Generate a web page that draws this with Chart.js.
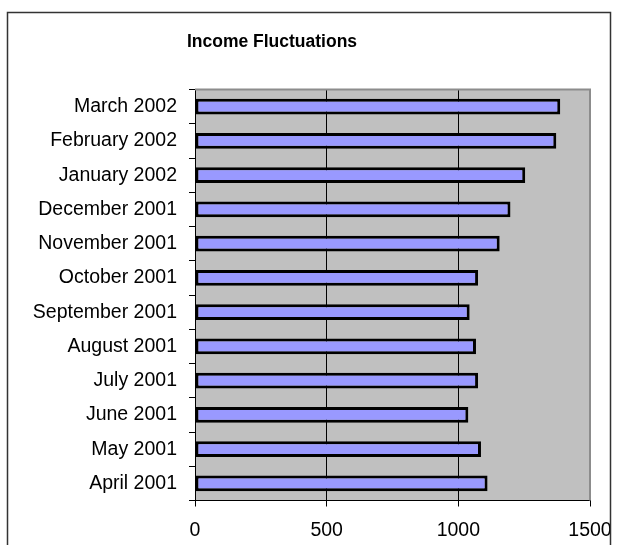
<!DOCTYPE html>
<html>
<head>
<meta charset="utf-8">
<script src="https://cdn.jsdelivr.net/npm/chart.js@4"></script>
<style>
  html, body { margin: 0; padding: 0; background: #fff; }
  #wrap { width: 619px; height: 545px; }
</style>
</head>
<body>
<div id="wrap"><canvas id="incomeChart" width="619" height="545"></canvas></div>
<script>
// Chart data (chronological, drawn bottom to top)
const months = ['April 2001', 'May 2001', 'June 2001', 'July 2001', 'August 2001', 'September 2001',
                'October 2001', 'November 2001', 'December 2001', 'January 2002', 'February 2002', 'March 2002'];
const income = [1111, 1086, 1038, 1075, 1067, 1043, 1075, 1157, 1198, 1254, 1372, 1387];
const xTicks = [0, 500, 1000, 1500];
const chartTitle = 'Income Fluctuations';

const FONT = "'Liberation Sans', Arial, sans-serif";

// Gray plot background, gray top/right plot border, outer frame and title
const frame = {
    id: 'frame',
    beforeDraw(chart) {
        const { ctx, chartArea: a } = chart;
        ctx.save();
        ctx.fillStyle = '#c0c0c0';
        ctx.fillRect(a.left, a.top, a.right - a.left, a.bottom - a.top);
        ctx.restore();
    },
    afterDraw(chart) {
        const { ctx, chartArea: a } = chart;
        ctx.save();
        ctx.strokeStyle = '#8c8c8c';
        ctx.lineWidth = 2;
        ctx.beginPath();
        ctx.moveTo(a.left, a.top);
        ctx.lineTo(a.right, a.top);
        ctx.lineTo(a.right, a.bottom);
        ctx.stroke();

        ctx.strokeStyle = '#333';
        ctx.lineWidth = 1.5;
        ctx.strokeRect(7.5, 12.5, 603, 600);

        ctx.fillStyle = '#000';
        ctx.font = 'bold 17.5px ' + FONT;
        ctx.textAlign = 'center';
        ctx.textBaseline = 'middle';
        ctx.fillText(chartTitle, 272, 42);
        ctx.restore();
    }
};

const ctx = document.getElementById('incomeChart').getContext('2d');
new Chart(ctx, {
    type: 'bar',
    data: {
        labels: months,
        datasets: [{
            label: 'Income',
            data: income,
            backgroundColor: '#9999ff',
            borderColor: '#000',
            borderWidth: 3,
            borderSkipped: false,
            categoryPercentage: 1,
            barPercentage: 0.46
        }]
    },
    options: {
        indexAxis: 'y',
        responsive: false,
        animation: false,
        layout: { padding: { top: 89.5, right: 29, left: 0, bottom: 0 } },
        plugins: {
            legend: { display: false },
            title: { display: false },
            tooltip: { enabled: false }
        },
        scales: {
            x: {
                min: 0,
                max: 1500,
                afterFit: s => { s.height = 44.5; s.paddingLeft = 0; s.paddingRight = 0; },
                afterBuildTicks: s => { s.ticks = xTicks.map(v => ({ value: v })); },
                ticks: {
                    color: '#000',
                    font: { family: FONT, size: 19.5 },
                    padding: 12,
                    maxRotation: 0,
                    callback: v => String(v)
                },
                grid: {
                    color: c => (c.tick && c.tick.value === 1500) ? '#8c8c8c' : '#000',
                    tickColor: '#000',
                    tickLength: 6,
                    lineWidth: 1
                },
                border: { display: true, color: '#000', width: 1 }
            },
            y: {
                reverse: true,
                afterFit: s => { s.width = 195; s.paddingTop = 0; s.paddingBottom = 0; },
                ticks: { color: '#000', font: { family: FONT, size: 19.5 }, padding: 12 },
                grid: {
                    offset: true,
                    drawOnChartArea: false,
                    tickColor: '#000',
                    tickLength: 6
                },
                border: { display: true, color: '#000', width: 1 }
            }
        }
    },
    plugins: [frame]
});
</script>
</body>
</html>
